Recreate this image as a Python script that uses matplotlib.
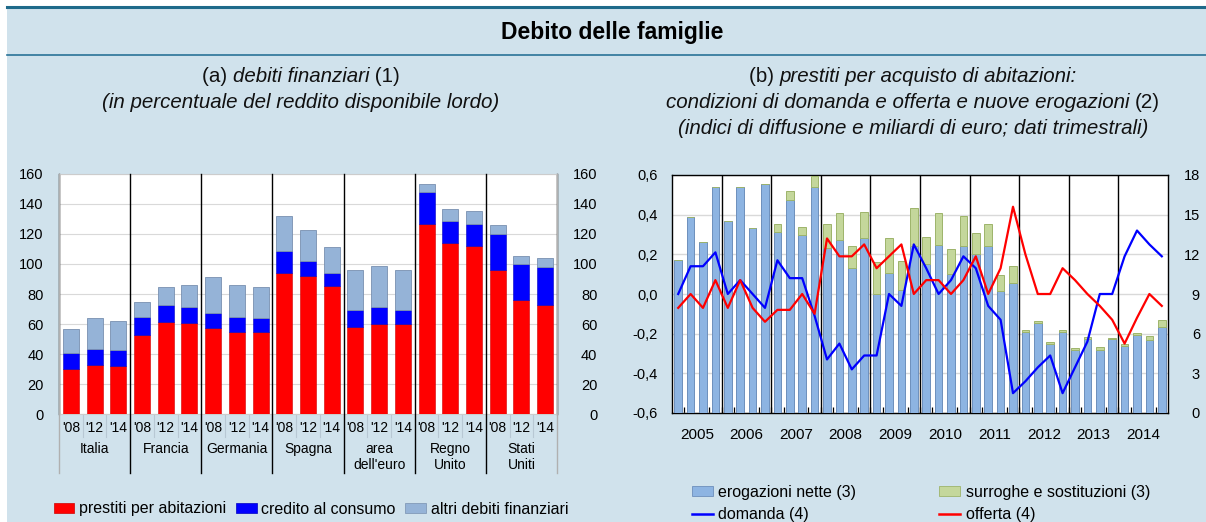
import matplotlib
matplotlib.use('Agg')
import matplotlib.pyplot as plt
import numpy as np
from matplotlib.patches import Patch, Rectangle
from matplotlib.lines import Line2D
from matplotlib.offsetbox import TextArea, HPacker, AnnotationBbox
from matplotlib.ticker import FuncFormatter

plt.rcParams['font.family'] = ['Liberation Sans', 'DejaVu Sans']

# ---------------------------------------------------
# data (a): household financial debt, % of gross disposable income
# ---------------------------------------------------
countries = [['Italia'], ['Francia'], ['Germania'], ['Spagna'],
             ['area', "dell'euro"], ['Regno', 'Unito'], ['Stati', 'Uniti']]
years_a = ["'08", "'12", "'14"]
prestiti = [30.2, 32.8, 32.2, 52.8, 61.5, 60.8, 57.3, 54.8, 54.8,
            93.9, 92.1, 85.4, 58.1, 60.1, 60.1, 126.9, 114.1, 112.1,
            96.1, 76.1, 72.8]
credito = [10.6, 10.7, 10.4, 12.2, 11.3, 10.7, 10.2, 10.0, 9.3,
           14.8, 10.0, 8.7, 11.4, 11.4, 9.4, 21.1, 14.6, 14.6,
           24.2, 24.0, 25.3]
altri = [15.8, 20.2, 19.3, 9.6, 11.8, 14.2, 23.7, 21.5, 20.7,
         23.1, 20.4, 17.5, 26.2, 27.0, 26.4, 5.1, 7.8, 8.5,
         5.5, 5.1, 6.0]

# ---------------------------------------------------
# data (b): quarterly, 2005Q1 - 2014Q4
# ---------------------------------------------------
anni_b = ['2005', '2006', '2007', '2008', '2009', '2010', '2011', '2012', '2013', '2014']
erogazioni = [11.6, 14.8, 12.9, 17.1, 14.5, 17.1, 14.0, 17.3,
              13.7, 16.1, 13.5, 17.1, 12.5, 13.1, 11.0, 13.2,
              9.0, 10.6, 9.3, 12.6, 11.3, 12.7, 10.5, 12.6,
              12.0, 12.6, 9.2, 9.8, 6.1, 6.8, 5.2, 6.1,
              4.8, 5.6, 4.8, 5.6, 5.1, 5.9, 5.5, 6.5]
surroghe = [0, 0, 0, 0, 0, 0, 0, 0,
            0.6, 0.7, 0.6, 0.8, 1.8, 2.0, 1.6, 2.0,
            2.4, 2.6, 2.2, 2.9, 2.0, 2.4, 1.9, 2.3,
            1.6, 1.7, 1.2, 1.3, 0.15, 0.15, 0.15, 0.15,
            0.1, 0.13, 0.18, 0.05, 0.15, 0.18, 0.3, 0.55]
domanda = [0.0, 0.14, 0.14, 0.21, 0.0, 0.07, 0.0, -0.07,
           0.17, 0.08, 0.08, -0.11, -0.33, -0.25, -0.38, -0.31,
           -0.31, 0.0, -0.06, 0.25, 0.13, 0.0, 0.07, 0.19,
           0.13, -0.06, -0.13, -0.5, -0.44, -0.37, -0.31, -0.5,
           -0.37, -0.24, 0.0, 0.0, 0.19, 0.32, 0.25, 0.19]
offerta = [-0.07, 0.0, -0.07, 0.07, -0.07, 0.07, -0.07, -0.14,
           -0.08, -0.08, 0.0, -0.1, 0.28, 0.19, 0.19, 0.25,
           0.13, 0.19, 0.25, 0.0, 0.07, 0.07, 0.0, 0.07,
           0.19, 0.0, 0.13, 0.44, 0.2, 0.0, 0.0, 0.13,
           0.07, 0.0, -0.06, -0.13, -0.25, -0.12, 0.0, -0.06]

BG = '#d0e2ec'
RED = '#ff0000'
BLUE = '#0000ff'
LBLUE = '#95b3d7'
BBAR = '#8db4e2'
GBAR = '#c4d79b'
GRID = '#d9d9d9'
TICK_FS = 10.5

W, H = 1206, 522
fig = plt.figure(figsize=(W / 100, H / 100), dpi=100)
fig.patch.set_facecolor('white')

def fx(px):
    return px / W

def fy(py):
    return 1 - py / H

# background panel and header lines
fig.add_artist(Rectangle((fx(7), 0), 1, fy(7), transform=fig.transFigure,
                         facecolor=BG, edgecolor='none', zorder=-10))
fig.add_artist(Line2D([fx(7), 1], [fy(7), fy(7)], color='#1f6a8a', lw=2.2))
fig.add_artist(Line2D([fx(7), 1], [fy(55), fy(55)], color='#2a7397', lw=1.2))
fig.text(fx(612), fy(32), 'Debito delle famiglie', ha='center', va='center',
         fontsize=16.5, fontweight='bold')

def mixed_line(parts, x, y, size=14.8):
    boxes = [TextArea(t, textprops=dict(fontsize=size, style=st, color='#111111'))
             for t, st in parts]
    pack = HPacker(children=boxes, align='baseline', pad=0, sep=0)
    ab = AnnotationBbox(pack, (fx(x), fy(y)), xycoords='figure fraction',
                        frameon=False, box_alignment=(0.5, 0.5), pad=0)
    fig.add_artist(ab)

mixed_line([('(a) ', 'normal'), ('debiti finanziari', 'italic'), (' (1)', 'normal')], 301, 77)
mixed_line([('(in percentuale del reddito disponibile lordo)', 'italic')], 301, 103)
mixed_line([('(b) ', 'normal'), ('prestiti per acquisto di abitazioni:', 'italic')], 913, 77)
mixed_line([('condizioni di domanda e offerta e nuove erogazioni ', 'italic'), ('(2)', 'normal')], 913, 103)
mixed_line([('(indici di diffusione e miliardi di euro; dati trimestrali)', 'italic')], 913, 129)

# ---------------------------------------------------
# panel (a)
# ---------------------------------------------------
axA = fig.add_axes([fx(59), fy(414), fx(557) - fx(59), fy(174) - fy(414)])
n = len(prestiti)
x = np.arange(n)
p = np.array(prestiti)
c = np.array(credito)
a = np.array(altri)
bw = 0.67
axA.bar(x, p, bw, color=RED, edgecolor='#d00000', lw=0.4, zorder=3)
axA.bar(x, c, bw, bottom=p, color=BLUE, edgecolor='#0000c0', lw=0.4, zorder=3)
axA.bar(x, a, bw, bottom=p + c, color=LBLUE, edgecolor='#7890b0', lw=0.6, zorder=3)
axA.set_xlim(-0.5, n - 0.5)
axA.set_ylim(0, 160)
axA.set_yticks(range(0, 161, 20))
axA.grid(axis='y', color=GRID, lw=0.8, zorder=0)
axA.set_axisbelow(True)
axA.set_xticks([])
axA.tick_params(axis='y', length=0, labelsize=TICK_FS, pad=11)
for s in ['top', 'bottom']:
    axA.spines[s].set_color('#cccccc')
    axA.spines[s].set_linewidth(0.8)
axA.spines['left'].set_linewidth(1.0)
axA.spines['right'].set_linewidth(1.0)

axA2 = axA.twinx()
axA2.set_ylim(0, 160)
axA2.set_yticks(range(0, 161, 20))
axA2.tick_params(axis='y', length=0, labelsize=TICK_FS, pad=29)
for lab in axA2.get_yticklabels():
    lab.set_horizontalalignment('right')
for s in axA2.spines.values():
    s.set_visible(False)

trA = axA.get_xaxis_transform()
ngroups = len(countries)
for g in range(ngroups + 1):
    xb = g * 3 - 0.5
    col = 'black' if 0 < g < ngroups else '#b0b0b0'
    axA.plot([xb, xb], [-59 / 240, 1], color=col, lw=1.0, transform=trA,
             clip_on=False, zorder=5)
for g in range(ngroups):
    for j in range(3):
        xi = g * 3 + j
        if j > 0:
            axA.plot([xi - 0.5, xi - 0.5], [-23 / 240, 0], color='#b8c8d4', lw=0.8,
                     transform=trA, clip_on=False)
        axA.text(xi, -14 / 240, years_a[j], ha='center', va='center',
                 fontsize=10, transform=trA)
    for k, line in enumerate(countries[g]):
        axA.text(g * 3 + 1, -(35 + 16 * k) / 240, line, ha='center', va='center',
                 fontsize=10, transform=trA)

handlesA = [Patch(facecolor=RED, edgecolor='#d00000', lw=0.5),
            Patch(facecolor=BLUE, edgecolor='#0000c0', lw=0.5),
            Patch(facecolor=LBLUE, edgecolor='#7890b0', lw=0.5)]
fig.legend(handlesA, ['prestiti per abitazioni', 'credito al consumo', 'altri debiti finanziari'],
           loc='center', bbox_to_anchor=(fx(311), fy(509)), ncol=3, frameon=False,
           fontsize=11.5, handlelength=1.3, handleheight=0.55, handletextpad=0.3,
           columnspacing=0.6, borderpad=0, borderaxespad=0)

# ---------------------------------------------------
# panel (b)
# ---------------------------------------------------
axB = fig.add_axes([fx(672), fy(413), fx(1168) - fx(672), fy(175) - fy(413)])
axL = axB.twinx()
q = np.arange(len(erogazioni))
e = np.array(erogazioni)
s_ = np.array(surroghe)
axB.bar(q, e, 0.62, color=BBAR, edgecolor='#6d8fbc', lw=0.7, zorder=3)
axB.bar(q, s_, 0.62, bottom=e, color=GBAR, edgecolor='#9db46a', lw=0.7, zorder=3)
axB.set_ylim(0, 18)
axB.set_yticks(range(0, 19, 3))
axB.set_xlim(-0.5, len(q) - 0.5)
axB.grid(axis='y', color=GRID, lw=1.0, zorder=0)
axB.set_axisbelow(True)
axB.yaxis.tick_right()
axB.tick_params(axis='y', length=0, labelsize=TICK_FS, pad=23)
for lab in axB.get_yticklabels():
    lab.set_horizontalalignment('right')
axB.set_xticks([4 * k + 1.5 for k in range(len(anni_b))])
axB.set_xticklabels(anni_b)
axB.tick_params(axis='x', which='major', length=0, labelsize=11, pad=11)
axB.set_xticks([i - 0.5 for i in range(1, len(q))], minor=True)
axB.tick_params(axis='x', which='minor', direction='in', length=4, width=0.9)
for k in range(1, len(anni_b)):
    axB.axvline(4 * k - 0.5, color='black', lw=1.0, zorder=4)
for sp in axB.spines.values():
    sp.set_linewidth(1.0)

axL.yaxis.tick_left()
axL.set_ylim(-0.6, 0.6)
axL.set_yticks(np.arange(-0.6, 0.61, 0.2))
axL.yaxis.set_major_formatter(FuncFormatter(
    lambda v, pos: ('%.1f' % v).replace('-0.0', '0.0').replace('.', ',')))
axL.tick_params(axis='y', length=0, labelsize=TICK_FS, pad=10)
axL.plot(q, domanda, color=BLUE, lw=1.6, zorder=6)
axL.plot(q, offerta, color=RED, lw=1.6, zorder=6)
for sp in axL.spines.values():
    sp.set_visible(False)

handlesB = [Patch(facecolor=BBAR, edgecolor='#6d8fbc', lw=0.6),
            Line2D([], [], color=BLUE, lw=1.8),
            Patch(facecolor=GBAR, edgecolor='#9db46a', lw=0.6),
            Line2D([], [], color=RED, lw=1.8)]
fig.legend(handlesB, ['erogazioni nette (3)', 'domanda (4)', 'surroghe e sostituzioni (3)', 'offerta (4)'],
           loc='center left', bbox_to_anchor=(fx(692), fy(503.5)), ncol=2, frameon=False,
           fontsize=11.5, handlelength=1.3, handleheight=0.55, handletextpad=0.35,
           columnspacing=5.2, labelspacing=0.5, borderpad=0, borderaxespad=0)

plt.savefig('out.png', dpi=100, facecolor=fig.get_facecolor())
